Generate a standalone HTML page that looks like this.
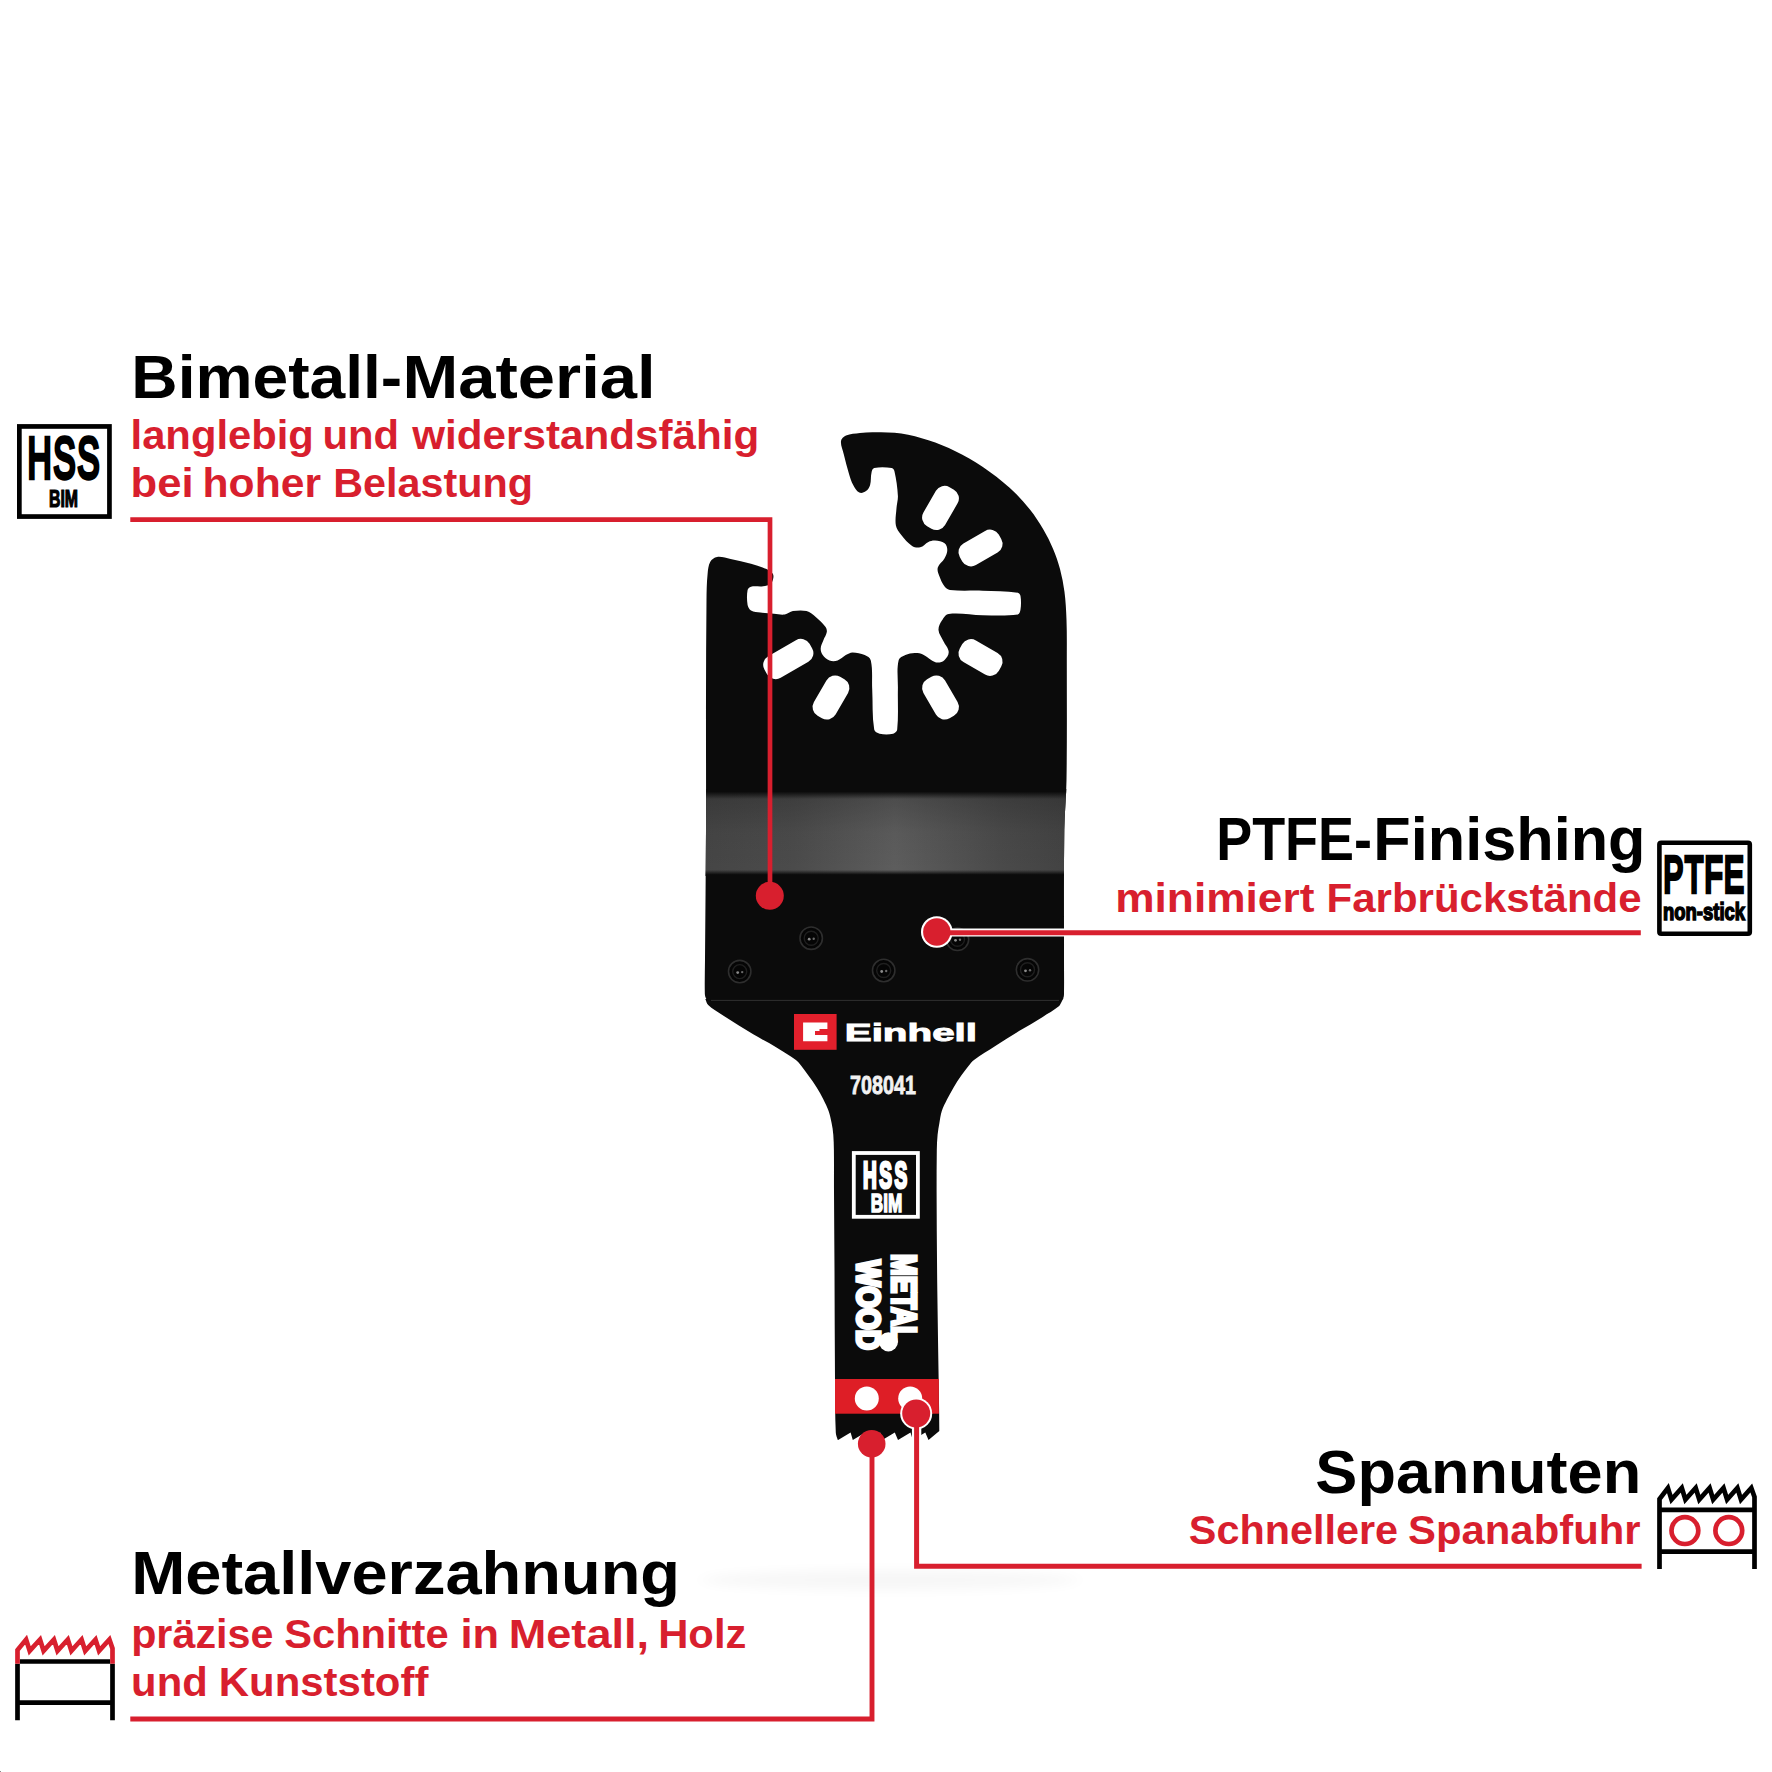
<!DOCTYPE html>
<html lang="de"><head><meta charset="utf-8"><title>Einhell Multitool Blade</title>
<style>
html,body{margin:0;padding:0;background:#fff}
svg{display:block}
text{font-family:"Liberation Sans",sans-serif}
</style></head>
<body>
<svg width="1772" height="1772" viewBox="0 0 1772 1772">
<defs>
<linearGradient id="gband" x1="0" y1="0" x2="1" y2="0">
<stop offset="0" stop-color="#454545"/><stop offset="0.25" stop-color="#4b4b4b"/><stop offset="0.52" stop-color="#5d5d5d"/><stop offset="0.8" stop-color="#4a4a4a"/><stop offset="1" stop-color="#424242"/>
</linearGradient>
<linearGradient id="gbandv" x1="0" y1="0" x2="0" y2="1">
<stop offset="0" stop-color="#0b0b0b" stop-opacity="1"/><stop offset="0.03" stop-color="#0b0b0b" stop-opacity="1"/><stop offset="0.115" stop-color="#0b0b0b" stop-opacity="0.2"/><stop offset="0.5" stop-color="#0b0b0b" stop-opacity="0.04"/><stop offset="0.93" stop-color="#0b0b0b" stop-opacity="0"/><stop offset="0.985" stop-color="#0b0b0b" stop-opacity="1"/><stop offset="1" stop-color="#0b0b0b" stop-opacity="1"/>
</linearGradient>
<filter id="blur" x="-0.2" y="-2" width="1.4" height="5"><feGaussianBlur stdDeviation="9 6"/></filter>
<clipPath id="upclip"><path d="M841.0 441.0C841.3 438.5 843.7 436.5 846.0 435.5C850.4 433.7 855.3 433.6 860.0 433.0C864.7 432.4 869.5 432.1 874.2 432.2C883.2 432.3 892.4 432.2 901.3 433.5C910.5 434.9 919.5 437.4 928.4 440.3C937.6 443.3 946.7 446.9 955.4 451.2C964.8 455.8 973.9 460.9 982.5 466.7C992.0 473.1 1001.1 480.1 1009.6 487.7C1017.0 494.3 1023.7 501.7 1029.9 509.4C1035.0 515.7 1039.4 522.7 1043.5 529.7C1047.1 535.8 1050.3 542.2 1053.0 548.7C1055.8 555.3 1058.2 562.1 1060.0 569.0C1062.0 576.6 1063.5 584.3 1064.5 592.0C1065.7 601.3 1066.2 610.6 1066.5 620.0C1067.0 633.3 1066.8 646.7 1066.8 660.0C1066.8 700.0 1067.1 740.0 1066.5 780.0C1066.3 796.7 1064.5 813.3 1064.3 830.0C1063.7 873.3 1064.1 916.7 1064.0 960.0C1064.0 970.7 1064.2 981.3 1064.0 992.0C1064.0 994.0 1064.1 996.2 1063.3 998.0C1062.7 999.4 1061.5 1000.8 1060.0 1001.0C1053.4 1001.9 1046.7 1001.0 1040.0 1001.0C936.7 1001.0 833.3 1001.0 730.0 1001.0C723.0 1001.0 715.9 1001.9 709.0 1001.0C707.5 1000.8 706.4 999.3 705.8 998.0C704.9 996.2 704.8 994.0 704.8 992.0C704.6 981.3 704.9 970.7 705.0 960.0C705.3 916.7 705.8 873.3 706.0 830.0C706.2 786.7 705.9 743.3 706.0 700.0C706.1 666.7 706.1 633.3 706.5 600.0C706.6 591.3 706.7 582.6 707.6 573.9C708.0 569.8 708.3 565.3 710.3 561.7C711.7 559.3 714.3 557.3 717.1 556.9C721.6 556.3 726.1 558.1 730.6 559.0C737.4 560.4 744.3 561.8 751.0 563.7C756.3 565.2 761.5 566.8 766.5 569.1C768.9 570.2 771.3 571.7 772.8 573.8C773.7 575.1 773.5 577.0 773.2 578.5C772.8 580.5 772.1 582.8 770.5 584.0C768.5 585.6 765.7 585.9 763.1 586.3C759.1 586.9 754.9 585.7 751.0 586.7C749.4 587.1 747.9 588.5 747.6 590.1C746.7 595.0 746.8 600.1 747.6 605.0C748.0 607.1 749.2 609.3 751.0 610.4C753.8 612.0 757.2 612.0 760.4 612.5C764.9 613.2 769.5 613.4 774.0 613.8C777.6 614.1 781.2 615.0 784.8 614.5C787.7 614.1 790.0 611.6 792.9 611.1C797.4 610.4 802.1 609.9 806.5 611.1C810.1 612.1 813.1 614.8 816.0 617.2C819.4 620.0 822.8 623.1 825.4 626.7C826.5 628.2 827.1 630.3 826.8 632.1C826.4 635.0 824.4 637.5 823.4 640.2C822.4 642.9 820.8 645.5 820.7 648.4C820.6 650.7 821.3 653.2 822.7 655.1C824.4 657.4 826.8 659.5 829.5 660.5C832.0 661.4 835.0 661.3 837.6 660.5C840.7 659.5 842.9 656.7 845.8 655.1C847.9 653.9 850.1 652.4 852.5 652.4C856.7 652.4 860.9 653.4 864.7 655.1C867.2 656.2 870.2 657.8 870.8 660.5C872.9 669.8 871.7 679.5 872.2 689.0C872.9 702.5 872.0 716.2 874.2 729.6C874.6 731.8 877.4 733.2 879.6 733.7C884.0 734.7 888.8 734.7 893.2 733.7C895.1 733.3 897.0 731.5 897.2 729.6C898.6 716.1 897.6 702.5 897.9 689.0C898.1 679.5 896.5 669.8 898.6 660.5C899.2 657.7 902.8 656.3 905.4 655.1C908.3 653.8 911.6 653.2 914.8 653.1C917.5 653.0 920.4 653.4 922.9 654.5C925.9 655.8 928.2 658.3 931.1 659.9C933.2 661.1 935.4 662.6 937.8 662.6C940.2 662.6 942.9 661.6 944.6 659.9C946.7 657.8 948.9 654.8 948.7 651.8C948.4 647.8 945.0 644.6 943.3 641.0C941.6 637.4 938.8 634.1 938.5 630.1C938.3 626.7 940.1 623.4 941.9 620.6C943.6 617.9 945.5 614.3 948.7 613.9C959.9 612.4 971.2 615.1 982.5 615.2C994.3 615.3 1006.2 616.1 1017.8 614.4C1019.6 614.1 1020.2 611.4 1020.5 609.6C1021.2 605.1 1021.2 600.5 1020.5 596.1C1020.3 594.7 1019.2 592.9 1017.8 592.7C1006.1 591.0 994.3 591.2 982.5 590.7C971.7 590.3 960.8 591.2 950.0 590.0C947.9 589.8 945.9 588.3 944.6 586.6C942.2 583.4 940.6 579.6 939.2 575.8C938.3 573.2 937.0 570.3 937.8 567.6C938.9 563.9 942.8 561.6 944.6 558.2C946.0 555.7 947.3 552.9 947.3 550.0C947.3 547.6 946.5 544.8 944.6 543.3C942.0 541.3 938.4 540.8 935.1 540.5C932.8 540.3 930.5 541.0 928.4 541.9C925.4 543.3 923.4 546.5 920.2 547.3C917.5 548.0 914.4 547.5 912.1 546.0C907.8 543.2 904.5 539.1 901.3 535.1C899.0 532.2 896.5 529.2 895.9 525.6C894.9 519.8 896.1 513.9 896.5 508.0C896.8 503.9 898.1 500.0 897.9 495.9C897.5 487.7 896.3 479.5 894.5 471.5C894.2 470.1 893.2 468.3 891.8 468.1C886.0 467.1 879.9 466.8 874.2 468.1C872.4 468.5 871.9 471.0 871.5 472.8C870.5 476.8 871.3 481.1 870.1 485.0C869.4 487.3 868.0 489.7 866.0 491.1C864.1 492.4 861.4 493.5 859.3 492.5C856.4 491.1 854.8 487.8 853.2 485.0C851.3 481.6 850.2 477.9 849.1 474.2C847.1 467.5 845.4 460.7 843.7 453.9C842.7 449.6 840.5 445.4 841.0 441.0Z"/></clipPath>
</defs>
<rect width="1772" height="1772" fill="#fff"/>
<ellipse cx="890" cy="1580" rx="190" ry="10" fill="#000" opacity="0.03" filter="url(#blur)"/>
<g id="blade">
<path d="M705.3 999.0C706.3 1001.0 706.6 1003.5 708.2 1005.0C712.2 1008.8 717.0 1011.5 721.6 1014.5C732.0 1021.3 742.5 1027.9 753.2 1034.3C761.0 1039.0 769.1 1043.0 776.9 1047.7C783.4 1051.6 789.8 1055.5 795.9 1060.0C797.9 1061.5 799.4 1063.5 801.0 1065.5C803.6 1068.8 806.0 1072.2 808.4 1075.6C811.2 1079.5 814.1 1083.3 816.7 1087.4C819.1 1091.2 821.3 1095.2 823.3 1099.3C825.2 1103.2 827.2 1107.0 828.6 1111.1C830.0 1115.0 830.8 1119.0 831.6 1123.0C832.4 1126.9 833.0 1130.8 833.3 1134.8C833.7 1139.9 833.8 1144.9 833.9 1150.0C834.1 1163.9 833.9 1177.7 834.0 1191.6C834.1 1217.7 834.4 1243.9 834.5 1270.0C834.7 1307.0 834.7 1344.0 835.0 1381.0C835.1 1398.2 835.0 1415.5 835.8 1432.7C835.9 1435.2 837.1 1437.6 837.8 1440.0L838.1 1440.1L850.6 1432.4L852.8 1440.1L865.3 1432.4L867.6 1440.1L880.1 1432.4L882.3 1440.1L894.8 1432.4L898.0 1440.1L910.5 1432.4L912.8 1440.1L925.3 1432.4L928.5 1440.1L939.3 1431.0L939.3 1431.0C939.2 1419.0 939.1 1407.0 938.9 1395.0C938.4 1360.0 937.7 1325.0 937.3 1290.0C936.9 1257.2 936.7 1224.4 936.6 1191.6C936.6 1177.7 936.6 1163.9 936.8 1150.0C936.9 1144.9 937.1 1139.9 937.6 1134.8C938.0 1130.8 938.7 1126.9 939.4 1123.0C940.1 1119.0 940.5 1114.9 941.8 1111.1C943.1 1107.0 945.2 1103.2 947.1 1099.3C949.1 1095.3 951.3 1091.3 953.6 1087.4C956.0 1083.4 958.6 1079.5 961.3 1075.6C963.6 1072.3 966.0 1069.1 968.5 1066.0C970.2 1063.9 971.8 1061.6 974.0 1060.0C980.8 1054.9 988.2 1050.7 995.3 1046.1C1003.2 1041.0 1011.0 1036.0 1019.0 1031.1C1026.8 1026.3 1034.9 1021.8 1042.7 1016.9C1048.0 1013.6 1053.6 1010.5 1058.5 1006.6C1059.9 1005.5 1060.6 1003.6 1061.5 1002.0C1062.2 1000.7 1062.8 999.3 1063.5 998.0Z" fill="#0b0b0b"/>
<path d="M841.0 441.0C841.3 438.5 843.7 436.5 846.0 435.5C850.4 433.7 855.3 433.6 860.0 433.0C864.7 432.4 869.5 432.1 874.2 432.2C883.2 432.3 892.4 432.2 901.3 433.5C910.5 434.9 919.5 437.4 928.4 440.3C937.6 443.3 946.7 446.9 955.4 451.2C964.8 455.8 973.9 460.9 982.5 466.7C992.0 473.1 1001.1 480.1 1009.6 487.7C1017.0 494.3 1023.7 501.7 1029.9 509.4C1035.0 515.7 1039.4 522.7 1043.5 529.7C1047.1 535.8 1050.3 542.2 1053.0 548.7C1055.8 555.3 1058.2 562.1 1060.0 569.0C1062.0 576.6 1063.5 584.3 1064.5 592.0C1065.7 601.3 1066.2 610.6 1066.5 620.0C1067.0 633.3 1066.8 646.7 1066.8 660.0C1066.8 700.0 1067.1 740.0 1066.5 780.0C1066.3 796.7 1064.5 813.3 1064.3 830.0C1063.7 873.3 1064.1 916.7 1064.0 960.0C1064.0 970.7 1064.2 981.3 1064.0 992.0C1064.0 994.0 1064.1 996.2 1063.3 998.0C1062.7 999.4 1061.5 1000.8 1060.0 1001.0C1053.4 1001.9 1046.7 1001.0 1040.0 1001.0C936.7 1001.0 833.3 1001.0 730.0 1001.0C723.0 1001.0 715.9 1001.9 709.0 1001.0C707.5 1000.8 706.4 999.3 705.8 998.0C704.9 996.2 704.8 994.0 704.8 992.0C704.6 981.3 704.9 970.7 705.0 960.0C705.3 916.7 705.8 873.3 706.0 830.0C706.2 786.7 705.9 743.3 706.0 700.0C706.1 666.7 706.1 633.3 706.5 600.0C706.6 591.3 706.7 582.6 707.6 573.9C708.0 569.8 708.3 565.3 710.3 561.7C711.7 559.3 714.3 557.3 717.1 556.9C721.6 556.3 726.1 558.1 730.6 559.0C737.4 560.4 744.3 561.8 751.0 563.7C756.3 565.2 761.5 566.8 766.5 569.1C768.9 570.2 771.3 571.7 772.8 573.8C773.7 575.1 773.5 577.0 773.2 578.5C772.8 580.5 772.1 582.8 770.5 584.0C768.5 585.6 765.7 585.9 763.1 586.3C759.1 586.9 754.9 585.7 751.0 586.7C749.4 587.1 747.9 588.5 747.6 590.1C746.7 595.0 746.8 600.1 747.6 605.0C748.0 607.1 749.2 609.3 751.0 610.4C753.8 612.0 757.2 612.0 760.4 612.5C764.9 613.2 769.5 613.4 774.0 613.8C777.6 614.1 781.2 615.0 784.8 614.5C787.7 614.1 790.0 611.6 792.9 611.1C797.4 610.4 802.1 609.9 806.5 611.1C810.1 612.1 813.1 614.8 816.0 617.2C819.4 620.0 822.8 623.1 825.4 626.7C826.5 628.2 827.1 630.3 826.8 632.1C826.4 635.0 824.4 637.5 823.4 640.2C822.4 642.9 820.8 645.5 820.7 648.4C820.6 650.7 821.3 653.2 822.7 655.1C824.4 657.4 826.8 659.5 829.5 660.5C832.0 661.4 835.0 661.3 837.6 660.5C840.7 659.5 842.9 656.7 845.8 655.1C847.9 653.9 850.1 652.4 852.5 652.4C856.7 652.4 860.9 653.4 864.7 655.1C867.2 656.2 870.2 657.8 870.8 660.5C872.9 669.8 871.7 679.5 872.2 689.0C872.9 702.5 872.0 716.2 874.2 729.6C874.6 731.8 877.4 733.2 879.6 733.7C884.0 734.7 888.8 734.7 893.2 733.7C895.1 733.3 897.0 731.5 897.2 729.6C898.6 716.1 897.6 702.5 897.9 689.0C898.1 679.5 896.5 669.8 898.6 660.5C899.2 657.7 902.8 656.3 905.4 655.1C908.3 653.8 911.6 653.2 914.8 653.1C917.5 653.0 920.4 653.4 922.9 654.5C925.9 655.8 928.2 658.3 931.1 659.9C933.2 661.1 935.4 662.6 937.8 662.6C940.2 662.6 942.9 661.6 944.6 659.9C946.7 657.8 948.9 654.8 948.7 651.8C948.4 647.8 945.0 644.6 943.3 641.0C941.6 637.4 938.8 634.1 938.5 630.1C938.3 626.7 940.1 623.4 941.9 620.6C943.6 617.9 945.5 614.3 948.7 613.9C959.9 612.4 971.2 615.1 982.5 615.2C994.3 615.3 1006.2 616.1 1017.8 614.4C1019.6 614.1 1020.2 611.4 1020.5 609.6C1021.2 605.1 1021.2 600.5 1020.5 596.1C1020.3 594.7 1019.2 592.9 1017.8 592.7C1006.1 591.0 994.3 591.2 982.5 590.7C971.7 590.3 960.8 591.2 950.0 590.0C947.9 589.8 945.9 588.3 944.6 586.6C942.2 583.4 940.6 579.6 939.2 575.8C938.3 573.2 937.0 570.3 937.8 567.6C938.9 563.9 942.8 561.6 944.6 558.2C946.0 555.7 947.3 552.9 947.3 550.0C947.3 547.6 946.5 544.8 944.6 543.3C942.0 541.3 938.4 540.8 935.1 540.5C932.8 540.3 930.5 541.0 928.4 541.9C925.4 543.3 923.4 546.5 920.2 547.3C917.5 548.0 914.4 547.5 912.1 546.0C907.8 543.2 904.5 539.1 901.3 535.1C899.0 532.2 896.5 529.2 895.9 525.6C894.9 519.8 896.1 513.9 896.5 508.0C896.8 503.9 898.1 500.0 897.9 495.9C897.5 487.7 896.3 479.5 894.5 471.5C894.2 470.1 893.2 468.3 891.8 468.1C886.0 467.1 879.9 466.8 874.2 468.1C872.4 468.5 871.9 471.0 871.5 472.8C870.5 476.8 871.3 481.1 870.1 485.0C869.4 487.3 868.0 489.7 866.0 491.1C864.1 492.4 861.4 493.5 859.3 492.5C856.4 491.1 854.8 487.8 853.2 485.0C851.3 481.6 850.2 477.9 849.1 474.2C847.1 467.5 845.4 460.7 843.7 453.9C842.7 449.6 840.5 445.4 841.0 441.0Z" fill="#0b0b0b"/>
<rect x="918.0" y="495.4" width="45" height="25" rx="10" transform="rotate(-60 940.5 507.9)" fill="#fff"/>
<rect x="958.0" y="535.5" width="45" height="25" rx="10" transform="rotate(-30 980.5 548.0)" fill="#fff"/>
<rect x="958.0" y="645.0" width="45" height="25" rx="10" transform="rotate(30 980.5 657.5)" fill="#fff"/>
<rect x="918.0" y="685.0" width="45" height="25" rx="10" transform="rotate(60 940.5 697.5)" fill="#fff"/>
<rect x="808.5" y="685.0" width="45" height="25" rx="10" transform="rotate(120 831.0 697.5)" fill="#fff"/>
<rect x="762.3" y="646.5" width="52" height="25" rx="10" transform="rotate(150 788.3 659.0)" fill="#fff"/>

<path d="M711 1000.4H1059" stroke="#303030" stroke-width="1"/>
<g clip-path="url(#upclip)"><rect x="700" y="789" width="375" height="87" fill="url(#gband)"/><rect x="700" y="789" width="375" height="87" fill="url(#gbandv)"/></g>
<rect x="835" y="1379" width="103.9" height="34.7" fill="#de1e26"/>
<circle cx="866.8" cy="1398.5" r="12" fill="#fff"/>
<circle cx="910.2" cy="1398.5" r="12" fill="#fff"/>
</g>
<rect x="794" y="1014" width="42.6" height="35.8" fill="#e3202c"/>
<path d="M803.1 1022.5H827.4V1029H819.5V1031H815V1035H827.4V1041.2H803.1Z" fill="#fff"/>
<text x="844.79" y="1041.0" font-size="24.0" fill="#fff" font-weight="bold" textLength="132.20" lengthAdjust="spacingAndGlyphs" stroke="#fff" stroke-width="0.9" stroke-linejoin="miter" stroke-miterlimit="3" font-family="'DejaVu Sans',sans-serif">Einhell</text>
<text x="850.02" y="1094.4" font-size="26.5" fill="#f2f2f2" font-weight="bold" textLength="66.01" lengthAdjust="spacingAndGlyphs" stroke="#f2f2f2" stroke-width="0.8" stroke-linejoin="miter" stroke-miterlimit="3">708041</text>
<rect x="853.8" y="1153" width="64.1" height="63.8" fill="none" stroke="#fff" stroke-width="3.8"/>
<text x="863.00" y="1188.4" font-size="37.4" fill="#fff" font-weight="bold" textLength="46.80" lengthAdjust="spacingAndGlyphs" stroke="#fff" stroke-width="3.2" stroke-linejoin="miter" stroke-miterlimit="3" letter-spacing="5.0">HSS</text>
<text x="870.78" y="1211.7" font-size="25.1" fill="#fff" font-weight="bold" textLength="31.39" lengthAdjust="spacingAndGlyphs" stroke="#fff" stroke-width="1.5" stroke-linejoin="miter" stroke-miterlimit="3">BIM</text>
<text transform="translate(892.2 1254.00) rotate(90)" font-size="35.5" fill="#fff" font-weight="bold" textLength="88.05" lengthAdjust="spacingAndGlyphs" stroke="#fff" stroke-width="3.4" stroke-linejoin="miter" stroke-miterlimit="3">METAL</text>
<text transform="translate(857.1 1259.88) rotate(90)" font-size="32.7" fill="#fff" font-weight="bold" textLength="90.12" lengthAdjust="spacingAndGlyphs" stroke="#fff" stroke-width="3.4" stroke-linejoin="miter" stroke-miterlimit="3">WOOD</text>
<circle cx="888.4" cy="1341.8" r="9.6" fill="#fff"/>
<circle cx="811.2" cy="938.2" r="11.2" fill="#050505" stroke="#2e2e2e" stroke-width="1.6"/>
<circle cx="811.2" cy="938.2" r="7" fill="none" stroke="#1f1f1f" stroke-width="1.4"/>
<circle cx="809.2" cy="939.2" r="1.4" fill="#8a8a8a"/>
<circle cx="813.7" cy="938.7" r="1.2" fill="#6a6a6a"/>
<circle cx="739.7" cy="971.6" r="11.2" fill="#050505" stroke="#2e2e2e" stroke-width="1.6"/>
<circle cx="739.7" cy="971.6" r="7" fill="none" stroke="#1f1f1f" stroke-width="1.4"/>
<circle cx="737.7" cy="972.6" r="1.4" fill="#8a8a8a"/>
<circle cx="742.2" cy="972.1" r="1.2" fill="#6a6a6a"/>
<circle cx="883.7" cy="970.5" r="11.2" fill="#050505" stroke="#2e2e2e" stroke-width="1.6"/>
<circle cx="883.7" cy="970.5" r="7" fill="none" stroke="#1f1f1f" stroke-width="1.4"/>
<circle cx="881.7" cy="971.5" r="1.4" fill="#8a8a8a"/>
<circle cx="886.2" cy="971.0" r="1.2" fill="#6a6a6a"/>
<circle cx="1027.5" cy="969.8" r="11.2" fill="#050505" stroke="#2e2e2e" stroke-width="1.6"/>
<circle cx="1027.5" cy="969.8" r="7" fill="none" stroke="#1f1f1f" stroke-width="1.4"/>
<circle cx="1025.5" cy="970.8" r="1.4" fill="#8a8a8a"/>
<circle cx="1030.0" cy="970.3" r="1.2" fill="#6a6a6a"/>
<circle cx="957.5" cy="939.3" r="11.2" fill="#050505" stroke="#2e2e2e" stroke-width="1.6"/>
<circle cx="957.5" cy="939.3" r="7" fill="none" stroke="#1f1f1f" stroke-width="1.4"/>
<circle cx="955.5" cy="940.3" r="1.4" fill="#8a8a8a"/>
<circle cx="960.0" cy="939.8" r="1.2" fill="#6a6a6a"/>
<g fill="none" stroke="#fff" stroke-width="8">
<path d="M937 932.6H1068"/>
<path d="M916.6 1413V1449" stroke-width="9.4"/>
</g>
<circle cx="936.8" cy="932" r="15.8" fill="#fff"/>
<circle cx="916.2" cy="1413.5" r="16" fill="#fff"/>
<g fill="none" stroke="#d81f2e" stroke-width="4.7">
<path d="M130.3 519.7H770V895"/>
<path d="M937 932.8H1640.8" stroke-width="5"/>
<path d="M916.6 1413V1566.3H1641.6" stroke-width="5"/>
<path d="M872 1444V1719H130.3" stroke-width="4.9"/>
</g>
<circle cx="769.8" cy="895.8" r="14" fill="#d81f2e"/>
<circle cx="936.8" cy="932" r="13.7" fill="#d81f2e"/>
<circle cx="916.2" cy="1413.5" r="14" fill="#d81f2e"/>
<circle cx="871.7" cy="1443.7" r="13.8" fill="#d81f2e"/>
<text y="397.6" font-size="61.5" fill="#000" font-weight="bold"><tspan x="131.34" textLength="270.88" lengthAdjust="spacingAndGlyphs">Bimetall-</tspan><tspan x="402.51" textLength="253.18" lengthAdjust="spacingAndGlyphs">Material</tspan></text>
<text y="449.1" font-size="40.5" fill="#d81f2e" font-weight="bold"><tspan x="130.56" textLength="183.28" lengthAdjust="spacingAndGlyphs">langlebig</tspan> <tspan x="322.50" textLength="76.62" lengthAdjust="spacingAndGlyphs">und</tspan> <tspan x="412.20" textLength="347.20" lengthAdjust="spacingAndGlyphs">widerstandsfähig</tspan></text>
<text y="496.9" font-size="40.5" fill="#d81f2e" font-weight="bold"><tspan x="130.50" textLength="63.03" lengthAdjust="spacingAndGlyphs">bei</tspan> <tspan x="202.57" textLength="118.44" lengthAdjust="spacingAndGlyphs">hoher</tspan> <tspan x="333.17" textLength="199.86" lengthAdjust="spacingAndGlyphs">Belastung</tspan></text>
<text y="859.6" font-size="61.5" fill="#000" font-weight="bold"><tspan x="1216.18" textLength="155.85" lengthAdjust="spacingAndGlyphs">PTFE-</tspan><tspan x="1373.33" textLength="272.12" lengthAdjust="spacingAndGlyphs">Finishing</tspan></text>
<text y="911.9" font-size="40.5" fill="#d81f2e" font-weight="bold"><tspan x="1115.21" textLength="199.20" lengthAdjust="spacingAndGlyphs">minimiert</tspan> <tspan x="1326.59" textLength="315.01" lengthAdjust="spacingAndGlyphs">Farbrückstände</tspan></text>
<text y="1492.8" font-size="61.5" fill="#000" font-weight="bold"><tspan x="1315.39" textLength="325.83" lengthAdjust="spacingAndGlyphs">Spannuten</tspan></text>
<text y="1543.8" font-size="40.5" fill="#d81f2e" font-weight="bold"><tspan x="1188.80" textLength="209.21" lengthAdjust="spacingAndGlyphs">Schnellere</tspan> <tspan x="1408.01" textLength="232.59" lengthAdjust="spacingAndGlyphs">Spanabfuhr</tspan></text>
<text y="1594.3" font-size="61.5" fill="#000" font-weight="bold"><tspan x="131.15" textLength="548.89" lengthAdjust="spacingAndGlyphs">Metallverzahnung</tspan></text>
<text y="1647.6" font-size="40.5" fill="#d81f2e" font-weight="bold"><tspan x="131.17" textLength="142.24" lengthAdjust="spacingAndGlyphs">präzise</tspan> <tspan x="284.19" textLength="164.39" lengthAdjust="spacingAndGlyphs">Schnitte</tspan> <tspan x="460.41" textLength="38.57" lengthAdjust="spacingAndGlyphs">in</tspan> <tspan x="508.73" textLength="140.35" lengthAdjust="spacingAndGlyphs">Metall,</tspan> <tspan x="658.19" textLength="88.23" lengthAdjust="spacingAndGlyphs">Holz</tspan></text>
<text y="1696.0" font-size="40.5" fill="#d81f2e" font-weight="bold"><tspan x="131.12" textLength="76.59" lengthAdjust="spacingAndGlyphs">und</tspan> <tspan x="218.81" textLength="209.59" lengthAdjust="spacingAndGlyphs">Kunststoff</tspan></text>
<rect x="0" y="1771" width="1" height="1" fill="#8a8a8a"/>
<rect x="19.35" y="426.45" width="90.1" height="90.1" fill="none" stroke="#000" stroke-width="4.7"/>
<text x="27.39" y="478.0" font-size="56.9" fill="#000" font-weight="normal" textLength="74.02" lengthAdjust="spacingAndGlyphs" stroke="#000" stroke-width="4.4" stroke-linejoin="miter" stroke-miterlimit="3" letter-spacing="3.0">HSS</text>
<text x="48.98" y="507.2" font-size="23.4" fill="#000" font-weight="bold" textLength="29.04" lengthAdjust="spacingAndGlyphs" stroke="#000" stroke-width="1.2" stroke-linejoin="miter" stroke-miterlimit="3">BIM</text>
<rect x="1659.4" y="842.7" width="90.4" height="91" rx="1.8" fill="none" stroke="#000" stroke-width="4.6"/>
<text x="1663.61" y="891.6" font-size="50.3" fill="#000" font-weight="normal" textLength="81.76" lengthAdjust="spacingAndGlyphs" stroke="#000" stroke-width="4.6" stroke-linejoin="miter" stroke-miterlimit="3" letter-spacing="2.5">PTFE</text>
<text x="1663.07" y="919.9" font-size="24.5" fill="#000" font-weight="bold" textLength="81.95" lengthAdjust="spacingAndGlyphs" stroke="#000" stroke-width="1.6" stroke-linejoin="miter" stroke-miterlimit="3">non-stick</text>
<g fill="none" stroke="#000" stroke-width="4.7" stroke-miterlimit="10">
<path d="M1659.5 1568.9L1659.5 1499.0L1667.9 1488.0L1671.5 1499.5L1681.8 1488.0L1685.4 1499.5L1695.7 1488.0L1699.3 1499.5L1709.6 1488.0L1713.2 1499.5L1723.5 1488.0L1727.1 1499.5L1737.4 1488.0L1741.0 1499.5L1751.3 1488.0L1754.5 1497.0L1754.5 1568.9"/>
<path d="M1659.5 1509.8H1754.5M1659.5 1551.6H1754.5"/>
</g>
<circle cx="1684.9" cy="1530.6" r="13.4" fill="none" stroke="#d81f2e" stroke-width="4.7"/>
<circle cx="1728.8" cy="1530.6" r="13.4" fill="none" stroke="#d81f2e" stroke-width="4.7"/>
<g fill="none" stroke-width="4.7" stroke-miterlimit="10">
<path stroke="#000" d="M17.5 1663.8V1720.2M112.5 1663.8V1720.2M19.8 1661.5H110.2M17.5 1702.7H112.5"/>
<path stroke="#d81f2e" d="M17.5 1663.8L17.5 1650.0L26.1 1639.5L29.7 1650.8L40.0 1639.5L43.6 1650.8L53.9 1639.5L57.5 1650.8L67.8 1639.5L71.4 1650.8L81.6 1639.5L85.2 1650.8L95.5 1639.5L99.1 1650.8L109.4 1639.5L112.5 1648.5L112.5 1663.8"/>
</g>
</svg>
</body></html>
